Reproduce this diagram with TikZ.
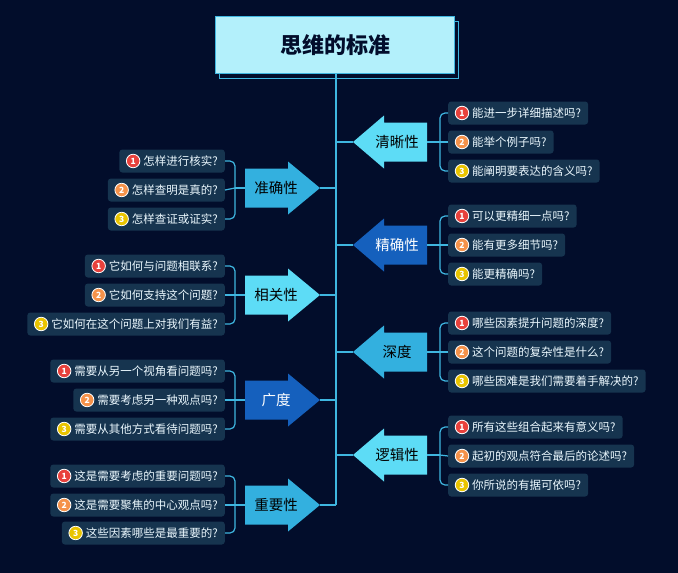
\documentclass[tikz,border=0pt]{standalone}
\usepackage{fontspec}
\setmainfont{Noto Sans CJK SC}
\definecolor{bg}{HTML}{020D2B}
\definecolor{titlef}{HTML}{B3F0FB}
\definecolor{lineC}{HTML}{3FB6E0}
\definecolor{cL}{HTML}{5DDCF6}
\definecolor{cM}{HTML}{33B0DF}
\definecolor{cD}{HTML}{1560BD}
\definecolor{boxf}{HTML}{16344F}
\definecolor{n1}{HTML}{E8413C}
\definecolor{n2}{HTML}{F5924A}
\definecolor{n3}{HTML}{E9C400}
\tikzset{
 itembox/.style={fill=boxf,rounded corners=3pt,text=white!92!cyan,font=\fontsize{11.5}{13}\selectfont,minimum height=23pt,inner xsep=7pt,inner ysep=0pt},
 numc/.style={circle,draw=white,line width=0.8pt,inner sep=0pt,minimum size=13.5pt,text=white,font=\fontsize{8.5}{8.5}\selectfont\bfseries},
 conn/.style={draw=lineC,line width=1.2pt},
 lab/.style={font=\fontsize{14.5}{16}\selectfont}
}
\newcommand\itemR[5]{%
 \node[itembox,anchor=west] (#1) at (448,#2) {\rule{17pt}{0pt}#5};
 \node[numc,fill=#3] at ([xshift=14pt]#1.west) {#4};}
\newcommand\itemL[5]{%
 \node[itembox,anchor=east] (#1) at (225,#2) {\rule{17pt}{0pt}#5};
 \node[numc,fill=#3] at ([xshift=14pt]#1.west) {#4};}
\newcommand\arrR[5]{%
 \fill[#3] (353,#2) -- (384,#2-26.5) -- (384,#2-19.5) -- (427,#2-19.5) -- (427,#2+19.5) -- (384,#2+19.5) -- (384,#2+26.5) -- cycle;
 \coordinate (#1t) at (353,#2); \coordinate (#1b) at (427,#2);
 \node[lab,text=#4] (#1) at (397,#2) {#5};
 \draw[conn] (#1t) -- (336,#2);}
\newcommand\arrL[5]{%
 \fill[#3] (320,#2) -- (288,#2-26.5) -- (288,#2-19.5) -- (245,#2-19.5) -- (245,#2+19.5) -- (288,#2+19.5) -- (288,#2+26.5) -- cycle;
 \coordinate (#1t) at (320,#2); \coordinate (#1b) at (245,#2);
 \node[lab,text=#4] (#1) at (276,#2) {#5};
 \draw[conn] (#1t) -- (336,#2);}
\newcommand\brR[4]{%
 \draw[conn] (#1b) -- ++(13,0) coordinate (#1j);
 \draw[conn,rounded corners=5pt] (#2.west) -| (#1j) |- (#4.west);
 \draw[conn] (#1j) -- (#3.west);}
\newcommand\brL[4]{%
 \draw[conn] (#1b) -- ++(-10,0) coordinate (#1j);
 \draw[conn,rounded corners=5pt] (#2.east) -| (#1j) |- (#4.east);
 \draw[conn] (#1j) -- (#3.east);}
\begin{document}
\begin{tikzpicture}[x=1pt,y=-1pt]
\fill[bg] (0,0) rectangle (678,573);
\useasboundingbox (0,0) rectangle (678,573);
\draw[lineC,line width=1pt] (219,21) rectangle (458,78);
\node[draw=lineC,line width=1pt,fill=titlef,minimum width=239pt,minimum height=57pt,font=\fontsize{22}{24}\selectfont\bfseries,text=bg] (title) at (335,45) {思维的标准};
\draw[conn] (title.south -| 336,0) -- (336,505);
\arrR{a}{142}{cL}{black}{清晰性}
\itemR{a1}{113}{n1}{1}{能进一步详细描述吗?}
\itemR{a2}{142}{n2}{2}{能举个例子吗?}
\itemR{a3}{171}{n3}{3}{能阐明要表达的含义吗?}
\brR{a}{a1}{a2}{a3}
\arrR{b}{245}{cD}{white}{精确性}
\itemR{b1}{216}{n1}{1}{可以更精细一点吗?}
\itemR{b2}{245}{n2}{2}{能有更多细节吗?}
\itemR{b3}{274}{n3}{3}{能更精确吗?}
\brR{b}{b1}{b2}{b3}
\arrR{c}{352}{cM}{black}{深度}
\itemR{c1}{323}{n1}{1}{哪些因素提升问题的深度?}
\itemR{c2}{352}{n2}{2}{这个问题的复杂性是什么?}
\itemR{c3}{381}{n3}{3}{哪些困难是我们需要着手解决的?}
\brR{c}{c1}{c2}{c3}
\arrR{d}{455}{cL}{black}{逻辑性}
\itemR{d1}{427}{n1}{1}{所有这些组合起来有意义吗?}
\itemR{d2}{456}{n2}{2}{起初的观点符合最后的论述吗?}
\itemR{d3}{485}{n3}{3}{你所说的有据可依吗?}
\brR{d}{d1}{d2}{d3}
\arrL{e}{188}{cM}{black}{准确性}
\itemL{e1}{161}{n1}{1}{怎样进行核实?}
\itemL{e2}{190}{n2}{2}{怎样查明是真的?}
\itemL{e3}{219}{n3}{3}{怎样查证或证实?}
\brL{e}{e1}{e2}{e3}
\arrL{f}{295}{cL}{black}{相关性}
\itemL{f1}{266}{n1}{1}{它如何与问题相联系?}
\itemL{f2}{295}{n2}{2}{它如何支持这个问题?}
\itemL{f3}{324}{n3}{3}{它如何在这个问题上对我们有益?}
\brL{f}{f1}{f2}{f3}
\arrL{g}{400}{cD}{white}{广度}
\itemL{g1}{371}{n1}{1}{需要从另一个视角看问题吗?}
\itemL{g2}{400}{n2}{2}{需要考虑另一种观点吗?}
\itemL{g3}{429}{n3}{3}{需要从其他方式看待问题吗?}
\brL{g}{g1}{g2}{g3}
\arrL{h}{505}{cM}{black}{重要性}
\itemL{h1}{476}{n1}{1}{这是需要考虑的重要问题吗?}
\itemL{h2}{505}{n2}{2}{这是需要聚焦的中心观点吗?}
\itemL{h3}{533}{n3}{3}{这些因素哪些是最重要的?}
\brL{h}{h1}{h2}{h3}
\end{tikzpicture}
\end{document}
